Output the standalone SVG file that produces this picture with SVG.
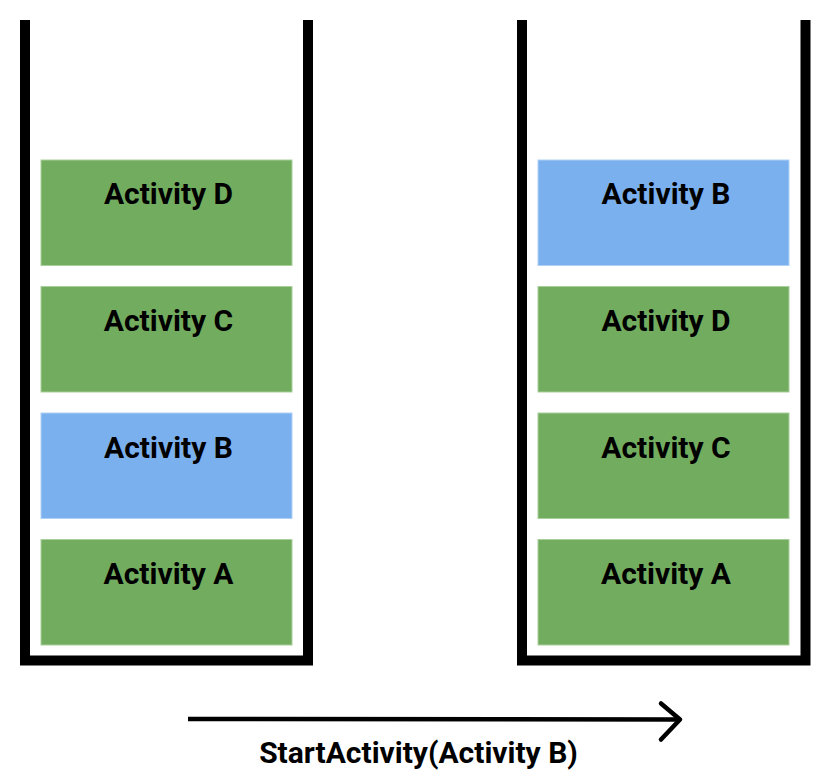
<svg xmlns="http://www.w3.org/2000/svg" width="832" height="782" viewBox="0 0 832 782">
<style>
.wall{fill:none;stroke:#000;stroke-width:10;stroke-linejoin:miter}
.g{fill:#72ac5f;stroke:#a9cf9c;stroke-width:1}
.b{fill:#7bb0ef;stroke:#b0d0f6;stroke-width:1}
.t{font-family:Roboto,"Liberation Sans",sans-serif;font-weight:bold;font-size:30px;fill:#000;text-anchor:middle}
.lbl{font-family:Roboto,"Liberation Sans",sans-serif;font-weight:bold;font-size:30px;fill:#000;text-anchor:middle}
</style>
<rect width="832" height="782" fill="#fff"/>
<g id="stack-left">
<path class="wall" d="M25,20 V660.5 H308 V20"/>
</g>
<g id="left-d"><rect class="g" x="41" y="160" width="251" height="105.5"/><text class="t" x="168.5" y="204">Activity D</text></g>
<g id="left-c"><rect class="g" x="41" y="286.5" width="251" height="105.5"/><text class="t" x="168.5" y="331">Activity C</text></g>
<g id="left-b"><rect class="b" x="41" y="413" width="251" height="105.5"/><text class="t" x="168.5" y="457.5">Activity B</text></g>
<g id="left-a"><rect class="g" x="41" y="539.5" width="251" height="105.5"/><text class="t" x="168.5" y="584">Activity A</text></g>
<g id="stack-right">
<path class="wall" d="M522,20 V660.5 H805.5 V20"/>
</g>
<g id="right-b"><rect class="b" x="538" y="160" width="251" height="105.5"/><text class="t" x="666" y="204">Activity B</text></g>
<g id="right-d"><rect class="g" x="538" y="286.5" width="251" height="105.5"/><text class="t" x="666" y="331">Activity D</text></g>
<g id="right-c"><rect class="g" x="538" y="413" width="251" height="105.5"/><text class="t" x="666" y="457.5">Activity C</text></g>
<g id="right-a"><rect class="g" x="538" y="539.5" width="251" height="105.5"/><text class="t" x="666" y="584">Activity A</text></g>
<g id="connectors">
<line x1="188" y1="719" x2="679" y2="719.5" stroke="#000" stroke-width="4.5"/>
<polyline points="661,703.5 680,719.5 661,739.5" fill="none" stroke="#000" stroke-width="4.5" stroke-linecap="round" stroke-linejoin="round"/>
<text class="lbl" x="418.5" y="763">StartActivity(Activity B)</text>
</g>
</svg>
